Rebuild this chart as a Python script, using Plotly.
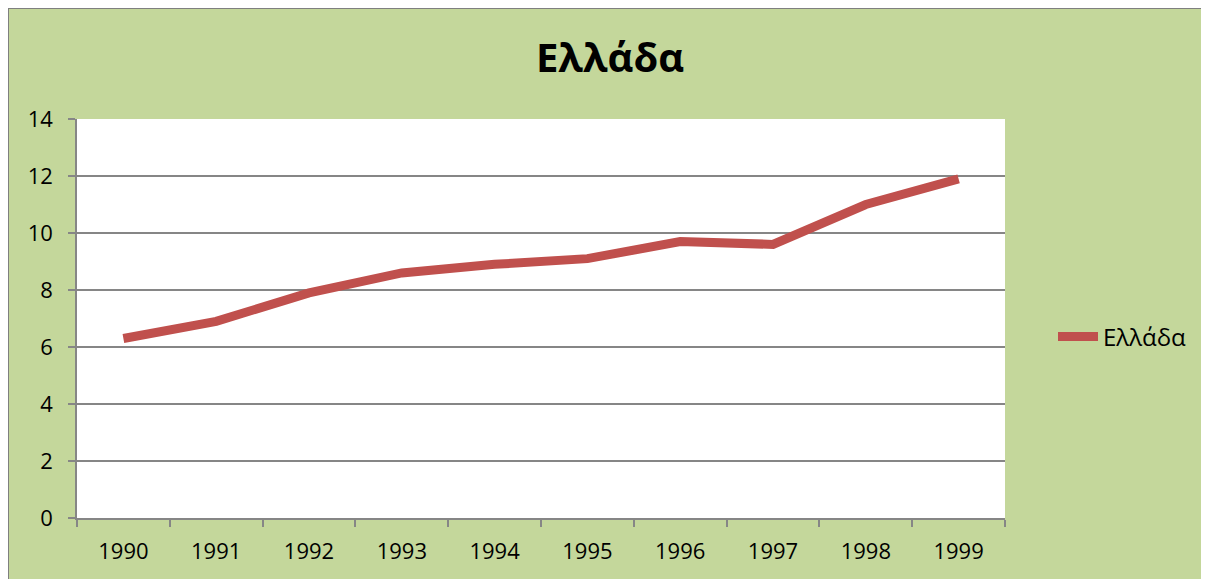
import plotly.graph_objects as go

years = ["1990", "1991", "1992", "1993", "1994", "1995", "1996", "1997", "1998", "1999"]
values = [6.3, 6.9, 7.9, 8.6, 8.9, 9.1, 9.7, 9.6, 11.0, 11.9]
series_name = "Ελλάδα"
title_text = "Ελλάδα"

# page body adds an 8px offset; work in screen pixels and shift
OFF = 8
W, H = 1209 - OFF, 579 - OFF
L, R, T, B = 77 - OFF, 1005 - OFF, 119 - OFF, 518 - OFF

def px_x(p):
    return (p - OFF - L) / (R - L)

def px_y(p):
    return (B - (p - OFF)) / (B - T)

fig = go.Figure()
fig.add_trace(go.Scatter(
    x=years, y=values, mode="lines", name=series_name,
    line=dict(color="#C0504D", width=9, shape="linear"),
    showlegend=True,
))

font_family = "Open Sans, Noto Sans, DejaVu Sans, sans-serif"

fig.update_layout(
    width=W, height=H,
    margin=dict(l=L, r=W - R, t=T, b=H - B, autoexpand=False),
    paper_bgcolor="#C4D79B",
    plot_bgcolor="#FFFFFF",
    title=dict(text="<b>" + title_text + "</b>", x=(610 - OFF) / W, xanchor="center",
               y=1 - (58 - OFF) / H, yanchor="middle",
               font=dict(family=font_family, size=40, color="#000000")),
    font=dict(family=font_family, size=22, color="#000000"),
    showlegend=True,
    legend=dict(x=px_x(1053), y=px_y(337), xanchor="left", yanchor="middle",
                bgcolor="rgba(0,0,0,0)", font=dict(size=24, color="#000000"),
                itemwidth=40),
    xaxis=dict(
        type="category", range=[-0.5, 9.5], tickson="boundaries",
        showline=True, linecolor="#868686", linewidth=1.5,
        ticks="outside", ticklen=7, tickcolor="#868686", tickwidth=1.5,
        showgrid=False, tickfont=dict(size=22), ticklabelstandoff=13,
        fixedrange=True,
    ),
    yaxis=dict(
        range=[0, 14], dtick=2, tick0=0,
        showline=True, linecolor="#868686", linewidth=1.5,
        ticks="outside", ticklen=7, tickcolor="#868686", tickwidth=1.5,
        showgrid=True, gridcolor="#868686", gridwidth=1.5,
        zeroline=False, tickfont=dict(size=22), ticklabelstandoff=11,
    ),
    shapes=[
        dict(type="line", xref="paper", yref="paper", x0=px_x(8), x1=px_x(8),
             y0=px_y(8), y1=px_y(600), line=dict(color="#7F7F7F", width=2), layer="above"),
        dict(type="line", xref="paper", yref="paper", x0=px_x(8), x1=px_x(1230),
             y0=px_y(8), y1=px_y(8), line=dict(color="#7F7F7F", width=2), layer="above"),
    ],
)

fig.write_html("out.html")
